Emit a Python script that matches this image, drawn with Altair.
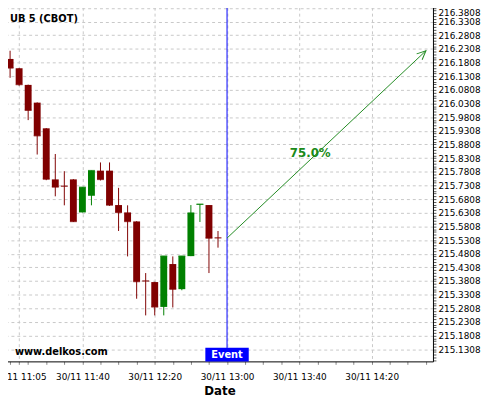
import altair as alt
import pandas as pd

# ---- data ----
times = ["11:00", "11:05", "11:10", "11:15", "11:20", "11:25", "11:30", "11:35",
         "11:40", "11:45", "11:50", "11:55", "12:00", "12:05", "12:10", "12:15",
         "12:20", "12:25", "12:30", "12:35", "12:40", "12:45", "12:50", "12:55"]
opens = [216.194, 216.160, 216.099, 216.034, 215.940, 215.753, 215.728, 215.753,
         215.632, 215.693, 215.785, 215.785, 215.659, 215.632, 215.599, 215.381,
         215.377, 215.286, 215.443, 215.351, 215.472, 215.660, 215.659, 215.539]
highs = [216.224, 216.161, 216.100, 216.035, 215.941, 215.846, 215.783, 215.754,
         215.724, 215.785, 215.815, 215.815, 215.722, 215.658, 215.600, 215.410,
         215.378, 215.472, 215.471, 215.472, 215.659, 215.662, 215.659, 215.564]
lows = [216.125, 216.096, 215.970, 215.844, 215.750, 215.691, 215.658, 215.597,
        215.632, 215.658, 215.749, 215.656, 215.564, 215.471, 215.316, 215.255,
        215.255, 215.255, 215.284, 215.347, 215.472, 215.597, 215.410, 215.503]
closes = [216.161, 216.100, 216.006, 215.913, 215.754, 215.725, 215.728, 215.599,
          215.724, 215.785, 215.753, 215.659, 215.632, 215.599, 215.379, 215.381,
          215.286, 215.472, 215.351, 215.472, 215.630, 215.662, 215.538, 215.539]

event_time = "13:00"
event_price = 215.538
target_time = "14:50"
target_price = 216.224
pct_label = "75.0%"
pct_time = "13:46"
pct_price = 215.851

instrument = "UB 5 (CBOT)"
watermark = "www.delkos.com"
event_text = "Event"

x_label_times = ["11:05", "11:40", "12:20", "13:00", "13:40", "14:20"]
x_label_prefix = "30/11 "
y_major_start = 215.1308
y_top_label = 216.3808


def mins(t):
    h, m = t.split(":")
    return (int(h) - 11) * 60 + int(m)


df = pd.DataFrame({
    "t": [mins(t) for t in times],
    "open": opens, "high": highs, "low": lows, "close": closes,
})
df["dir"] = ["up" if c > o else "down" for o, c in zip(opens, closes)]

FONT = "DejaVu Sans"
RED = "#800000"
GREEN = "#008000"

# ---- scales / axes ----
xs = alt.Scale(domain=[-2.24, 233.9], nice=False, zero=False, padding=0)
ys = alt.Scale(domain=[215.0865, 216.3833], nice=False, zero=False, padding=0)

label_mins = [mins(t) for t in x_label_times]
x_tick_vals = sorted(set(list(range(0, 235, 10)) + label_mins))
lab_expr = ""
for m, t in zip(label_mins, x_label_times):
    lab_expr += f"datum.value == {m} ? '{x_label_prefix}{t}' : "
lab_expr += "''"
is_major_x = "indexof([" + ",".join(str(m) for m in label_mins) + "], datum.value) >= 0"

xaxis = alt.Axis(
    values=x_tick_vals, labelExpr=lab_expr, labelOverlap=False, labelFlush=False,
    labelFont=FONT, labelFontSize=9, labelColor="black", labelPadding=8,
    tickSize=3, tickColor="#888888", domainColor="black", domainWidth=1,
    grid=True, gridDash=[3, 3], gridColor="#c8c8c8",
    gridOpacity={"condition": {"test": is_major_x, "value": 1}, "value": 0},
    title="Date", titleFont=FONT, titleFontSize=12, titleFontWeight="bold",
    titleColor="black", titlePadding=5,
)

y_vals = [round(y_major_start + 0.01 * k, 4) for k in range(-4, 126)]
is_major_y = f"abs(round((datum.value - {y_major_start}) * 100)) % 5 == 0"
is_top_y = f"datum.value > {y_top_label - 0.001}"
yaxis = alt.Axis(
    orient="right", values=y_vals,
    labelExpr=f"{is_major_y} ? format(datum.value, '.4f') : ''",
    labelOverlap=False, labelFlush=False,
    labelBaseline={"condition": {"test": is_top_y, "value": "top"}, "value": "middle"},
    labelOffset={"condition": {"test": is_top_y, "value": 1}, "value": 0},
    labelFont=FONT, labelFontSize=9, labelColor="black", labelPadding=2,
    tickSize=3, tickColor="#555555", domainColor="black", domainWidth=1,
    grid=True, gridDash=[3, 3], gridColor="#c8c8c8",
    gridOpacity={"condition": {"test": is_major_y, "value": 1}, "value": 0},
    title=None,
)


def X(f="t"):
    return alt.X(f, type="quantitative", scale=xs, axis=xaxis)


def Y(f):
    return alt.Y(f, type="quantitative", scale=ys, axis=yaxis)


col = alt.Color("dir:N", scale=alt.Scale(domain=["up", "down"], range=[GREEN, RED]),
                legend=None)

base = alt.Chart(df)
wicks = base.mark_rule(strokeWidth=1).encode(x=X(), y=Y("low"), y2="high", color=col)
bodies = base.mark_bar(size=7).encode(x=X(), y=Y("open"), y2="close", color=col)
dojis = base.mark_tick(orient="horizontal", size=7, thickness=1.5).encode(
    x=X(), y=Y("close"), color=col)

event_df = pd.DataFrame({"t": [mins(event_time)]})
event_rule = alt.Chart(event_df).mark_rule(color="#0000ff", strokeWidth=1).encode(x=X())

arrow_df = pd.DataFrame({"t": [mins(event_time), mins(target_time)],
                         "price": [event_price, target_price]})
arrow_line = alt.Chart(arrow_df).mark_line(color="#228b22", strokeWidth=1).encode(
    x=X(), y=Y("price"))
head_df = arrow_df.iloc[[1]]
arrow_head = alt.Chart(head_df).mark_point(
    shape="M-0.45,1L0,0L0.45,1", filled=False, size=330, angle=47,
    color="#228b22", strokeWidth=1, opacity=1).encode(x=X(), y=Y("price"))

pct_df = pd.DataFrame({"t": [mins(pct_time)], "price": [pct_price], "txt": [pct_label]})
pct_text = alt.Chart(pct_df).mark_text(
    font=FONT, fontSize=12, fontWeight="bold", color="#1a8a1a",
    align="center", baseline="middle").encode(x=X(), y=Y("price"), text="txt")

ev = mins(event_time)
ev_box_df = pd.DataFrame({"a": [ev - 12], "b": [ev + 12], "txt": [event_text]})
ev_box = alt.Chart(ev_box_df).mark_rect(color="#0000ff").encode(
    x=X("a"), x2="b", y=alt.value(346), y2=alt.value(360))
ev_txt = alt.Chart(ev_box_df.assign(t=ev)).mark_text(
    font=FONT, fontSize=10, fontWeight="bold", color="white",
    align="center", baseline="alphabetic").encode(x=X(), y=alt.value(356.5), text="txt")

title_txt = alt.Chart(pd.DataFrame({"txt": [instrument]})).mark_text(
    font=FONT, fontSize=10, fontWeight="bold", color="black",
    align="left", baseline="alphabetic").encode(
    x=alt.value(4), y=alt.value(15), text="txt")
wm_txt = alt.Chart(pd.DataFrame({"txt": [watermark]})).mark_text(
    font=FONT, fontSize=10, fontWeight="bold", color="black",
    align="left", baseline="alphabetic").encode(
    x=alt.value(9), y=alt.value(353.5), text="txt")

chart = alt.layer(
    wicks, bodies, dojis, event_rule, arrow_line, arrow_head, pct_text,
    ev_box, ev_txt, title_txt, wm_txt
).properties(
    width=434, height=360,
    padding={"left": -2, "top": -4, "right": 60, "bottom": 36},
    autosize=alt.AutoSizeParams(type="none"),
    background="white",
).configure_view(stroke=None)

chart.save("out.html", embed_options={"renderer": "svg", "actions": False})
